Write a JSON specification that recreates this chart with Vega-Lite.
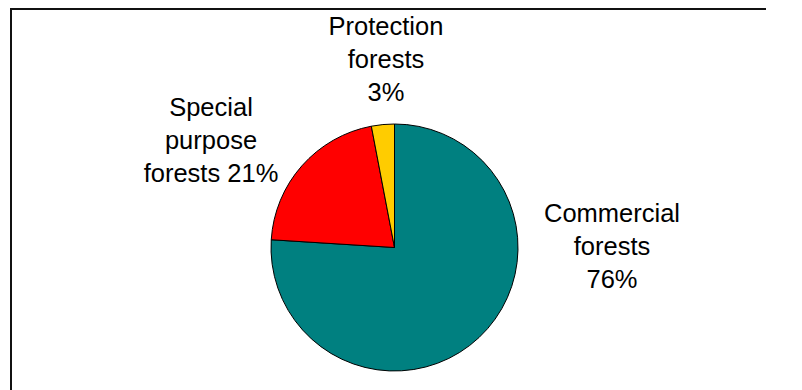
{
  "$schema": "https://vega.github.io/schema/vega-lite/v6.json",
  "autosize": {"type": "none"},
  "width": 767,
  "height": 477,
  "padding": {"left": 11, "top": 9, "right": -12, "bottom": -96},
  "background": "#ffffff",
  "view": {"stroke": "#111111", "strokeWidth": 2, "fill": "#ffffff"},
  "config": {
    "view": {"stroke": "#111111", "strokeWidth": 2},
    "text": {"font": "Liberation Sans"}
  },
  "data": {
    "values": [
      {"category": "Commercial forests", "value": 76, "order": 1, "label": "Commercial\nforests\n76%"},
      {"category": "Special purpose forests", "value": 21, "order": 2, "label": "Special\npurpose\nforests 21%"},
      {"category": "Protection forests", "value": 3, "order": 3, "label": "Protection\nforests\n3%"}
    ]
  },
  "transform": [
    {"stack": "value", "groupby": [], "sort": [{"field": "order", "order": "ascending"}], "as": ["v0", "v1"]}
  ],
  "layer": [
    {
      "mark": {"type": "arc", "outerRadius": 123.5, "stroke": "#000000", "strokeWidth": 1},
      "encoding": {
        "theta": {"field": "v0", "type": "quantitative", "scale": {"domain": [0, 100]}},
        "theta2": {"field": "v1"},
        "color": {
          "field": "category",
          "type": "nominal",
          "scale": {"domain": ["Commercial forests", "Special purpose forests", "Protection forests"], "range": ["#008080", "#FF0000", "#FFCC00"]},
          "legend": null
        }
      }
    },
    {
      "transform": [{"filter": {"field": "category", "equal": "Commercial forests"}}],
      "mark": {"type": "text", "radius": 220.06, "thetaOffset": 1.4179, "fontSize": 25.5, "lineHeight": 33, "lineBreak": "\n", "align": "center", "baseline": "middle", "color": "#000000"},
      "encoding": {
        "theta": {"field": "v0", "type": "quantitative"},
        "text": {"field": "label"}
      }
    },
    {
      "transform": [{"filter": {"field": "category", "equal": "Special purpose forests"}}],
      "mark": {"type": "text", "radius": 230.5, "thetaOffset": 0.5871, "fontSize": 25.5, "lineHeight": 33, "lineBreak": "\n", "align": "center", "baseline": "middle", "color": "#000000"},
      "encoding": {
        "theta": {"field": "v0", "type": "quantitative"},
        "text": {"field": "label"}
      }
    },
    {
      "transform": [{"filter": {"field": "category", "equal": "Protection forests"}}],
      "mark": {"type": "text", "radius": 220.7, "thetaOffset": 0.1499, "fontSize": 25.5, "lineHeight": 33, "lineBreak": "\n", "align": "center", "baseline": "middle", "color": "#000000"},
      "encoding": {
        "theta": {"field": "v0", "type": "quantitative"},
        "text": {"field": "label"}
      }
    }
  ]
}
